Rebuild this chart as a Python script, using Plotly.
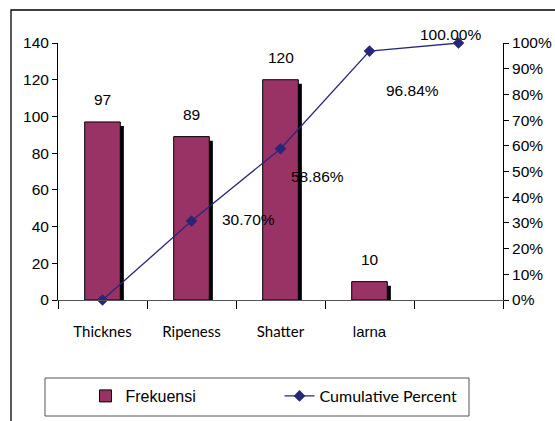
import plotly.graph_objects as go

categories = ["Thicknes", "Ripeness", "Shatter", "larna", " "]
category_labels = ["Thicknes", "Ripeness", "Shatter",
                   '<span style="font-family:Liberation Sans">larna</span>', ""]
bar_categories = ["Thicknes", "Ripeness", "Shatter", "larna"]
frekuensi = [97, 89, 120, 10]
cum_categories = ["Thicknes", "Ripeness", "Shatter", "larna", " "]
cum_percent = [0.0, 30.70, 58.86, 96.84, 100.00]
y_ticks = [0, 20, 40, 60, 80, 100, 120, 140]
y2_ticks = [0, 10, 20, 30, 40, 50, 60, 70, 80, 90, 100]
y2_tick_labels = ["0%", "10%", "20%", "30%", "40%", "50%", "60%", "70%", "80%", "90%", "100%"]

NUM_FONT = "Liberation Sans, Arial, sans-serif"
CAT_FONT = "Lato, Carlito, Open Sans, sans-serif"
BAR_COLOR = "#993366"
LINE_COLOR = "#27277a"
NUM_SIZE = 15.5

W, H = 555, 421
ML, MR, MT, MB = 58, 52, 43, 121
PW, PH = W - ML - MR, H - MT - MB


def px_to_paper_x(px):
    return (px - ML) / PW


def px_to_paper_y(py):
    return (H - MB - py) / PH


fig = go.Figure()

# shadow bars (drawn first, shifted right and down)
fig.add_trace(go.Bar(
    x=bar_categories, y=frekuensi, base=-2.2,
    width=0.4, offset=-0.2 + 0.04,
    marker=dict(color="black", line=dict(width=0)),
    showlegend=False, hoverinfo="skip", cliponaxis=True,
))
fig.add_trace(go.Bar(
    x=bar_categories, y=frekuensi, name="Frekuensi",
    width=0.4, offset=-0.2,
    marker=dict(color=BAR_COLOR, line=dict(color="black", width=1)),
    cliponaxis=True,
))
fig.add_trace(go.Scatter(
    x=cum_categories, y=cum_percent, yaxis="y2",
    name='<span style="font-family:Lato">Cumulative Percent</span>',
    mode="lines+markers",
    line=dict(color=LINE_COLOR, width=1.3),
    marker=dict(symbol="diamond", size=9, color=LINE_COLOR),
    cliponaxis=False,
))

# bar value labels
for c, v in zip(bar_categories, frekuensi):
    fig.add_annotation(x=c, y=v, xref="x", yref="y", text=str(v),
                       showarrow=False, yshift=22,
                       font=dict(family=NUM_FONT, size=NUM_SIZE, color="black"))

# cumulative labels (offsets in px)
label_offsets = [None, (57, 2), (37, -28), (43, -39), (-8, 9)]
for c, v, off in zip(cum_categories, cum_percent, label_offsets):
    if off is None:
        continue
    fig.add_annotation(x=c, y=v, xref="x", yref="y2", text=f"{v:.2f}%",
                       showarrow=False, xshift=off[0], yshift=off[1],
                       font=dict(family=NUM_FONT, size=NUM_SIZE, color="black"))

# outer chart border
fig.add_shape(type="rect", xref="paper", yref="paper",
              x0=px_to_paper_x(11), x1=px_to_paper_x(565),
              y0=px_to_paper_y(430), y1=px_to_paper_y(10),
              line=dict(color="black", width=1.3), fillcolor="rgba(0,0,0,0)",
              layer="below")
# legend box
fig.add_shape(type="rect", xref="paper", yref="paper",
              x0=px_to_paper_x(45), x1=px_to_paper_x(469),
              y0=px_to_paper_y(416), y1=px_to_paper_y(378),
              line=dict(color="#555555", width=1), fillcolor="rgba(0,0,0,0)",
              layer="below")

fig.update_layout(
    width=W, height=H,
    margin=dict(l=ML, r=MR, t=MT, b=MB, autoexpand=False),
    paper_bgcolor="white", plot_bgcolor="white",
    barmode="overlay",
    font=dict(family=NUM_FONT, size=NUM_SIZE, color="black"),
    xaxis=dict(
        type="category", categoryorder="array", categoryarray=categories,
        tickvals=categories, ticktext=category_labels,
        range=[-0.5, 4.5],
        tickson="boundaries", ticks="outside", ticklen=8, tickcolor="black",
        showline=True, linecolor="#555555", linewidth=1,
        tickfont=dict(family=CAT_FONT, size=15),
        ticklabelstandoff=18,
        showgrid=False, zeroline=False, automargin=False,
    ),
    yaxis=dict(
        range=[0, 140], tickvals=y_ticks,
        ticks="outside", ticklen=5, tickcolor="black",
        showline=True, linecolor="black", linewidth=1,
        showgrid=False, zeroline=False, automargin=False,
        tickfont=dict(family=NUM_FONT, size=NUM_SIZE),
    ),
    yaxis2=dict(
        range=[0, 100], tickvals=y2_ticks, ticktext=y2_tick_labels,
        overlaying="y", side="right",
        ticks="outside", ticklen=5, tickcolor="black",
        showline=True, linecolor="black", linewidth=1,
        showgrid=False, zeroline=False, automargin=False,
        tickfont=dict(family=NUM_FONT, size=NUM_SIZE),
    ),
    legend=dict(
        orientation="h", xref="container", yref="container",
        x=85.5 / W, y=1 - 396 / H,
        xanchor="left", yanchor="middle",
        borderwidth=0, bgcolor="rgba(0,0,0,0)",
        entrywidth=149, entrywidthmode="pixels",
        font=dict(family=NUM_FONT, size=16),
        traceorder="normal",
    ),
)

fig.write_html("out.html")
